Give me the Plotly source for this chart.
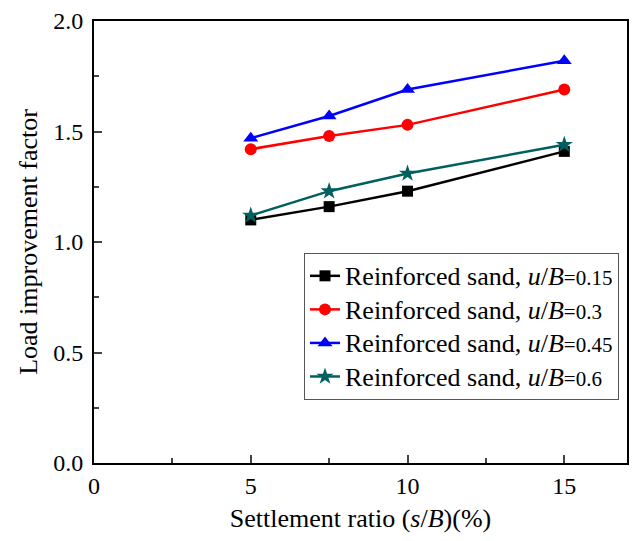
import plotly.graph_objects as go

# Settlement ratio s/B (%)
settlement = [5, 7.5, 10, 15]

# Load improvement factor per u/B
lif_015 = [1.10, 1.16, 1.23, 1.41]
lif_030 = [1.42, 1.48, 1.53, 1.69]
lif_045 = [1.47, 1.57, 1.69, 1.82]
lif_060 = [1.12, 1.23, 1.31, 1.44]

ub_values = ["0.15", "0.3", "0.45", "0.6"]

x_ticks = [0, 5, 10, 15]
y_ticks = [0.0, 0.5, 1.0, 1.5, 2.0]

FONT = "Liberation Serif, Times New Roman, serif"

fig = go.Figure()

styles = [
    (lif_015, "black", "square", 11),
    (lif_030, "#ff0000", "circle", 12),
    (lif_045, "#0000ff", "triangle-up", 13),
    (lif_060, "#005f5f", "star", 13),
]

for (vals, color, symbol, size), ub in zip(styles, ub_values):
    # big text in a span so the legend rows can stay tight
    name = ("<span style='font-size:26px'>Reinforced sand, <i>u</i>/<i>B</i></span>"
            "<span style='font-size:21px'>=" + ub + "</span>")
    fig.add_trace(go.Scatter(x=settlement, y=vals, name=name,
                             mode="lines+markers",
                             line=dict(color=color, width=2.5),
                             marker=dict(symbol=symbol, size=size, color=color)))

# the page body adds an 8px margin, so the figure is sized to fit inside it
fig.update_layout(
    width=621, height=525,
    margin=dict(l=86, r=0, t=11, b=70),
    plot_bgcolor="white", paper_bgcolor="white",
    font=dict(family=FONT, size=24, color="black"),
    legend=dict(x=0.985, xanchor="right", y=0.475, yanchor="top",
                bgcolor="white", bordercolor="#555555", borderwidth=1,
                font=dict(size=23.5), tracegroupgap=0),
    showlegend=True,
)

fig.update_xaxes(range=[0, 17], tickvals=x_ticks, ticks="inside", ticklen=8,
                 tickwidth=1.5, showline=True, linecolor="black", linewidth=2,
                 mirror=True, showgrid=False, zeroline=False,
                 ticklabelstandoff=0, automargin=False,
                 minor=dict(dtick=2.5, tick0=0, ticks="inside", ticklen=5,
                            tickwidth=1.5, showgrid=False),
                 title=dict(text="Settlement ratio (<i>s</i>/<i>B</i>)(%)",
                            font=dict(size=26), standoff=19))
fig.update_yaxes(range=[0, 2], tickvals=y_ticks, tickformat=".1f",
                 ticks="inside", ticklen=8, tickwidth=1.5, showline=True,
                 linecolor="black", linewidth=2, mirror=True, showgrid=False,
                 zeroline=False, ticklabeloverflow="allow",
                 ticklabelstandoff=4,
                 minor=dict(dtick=0.25, tick0=0, ticks="inside", ticklen=5,
                            tickwidth=1.5, showgrid=False),
                 title=dict(text="Load improvement factor", font=dict(size=26),
                            standoff=8))

fig.write_html("out.html")
